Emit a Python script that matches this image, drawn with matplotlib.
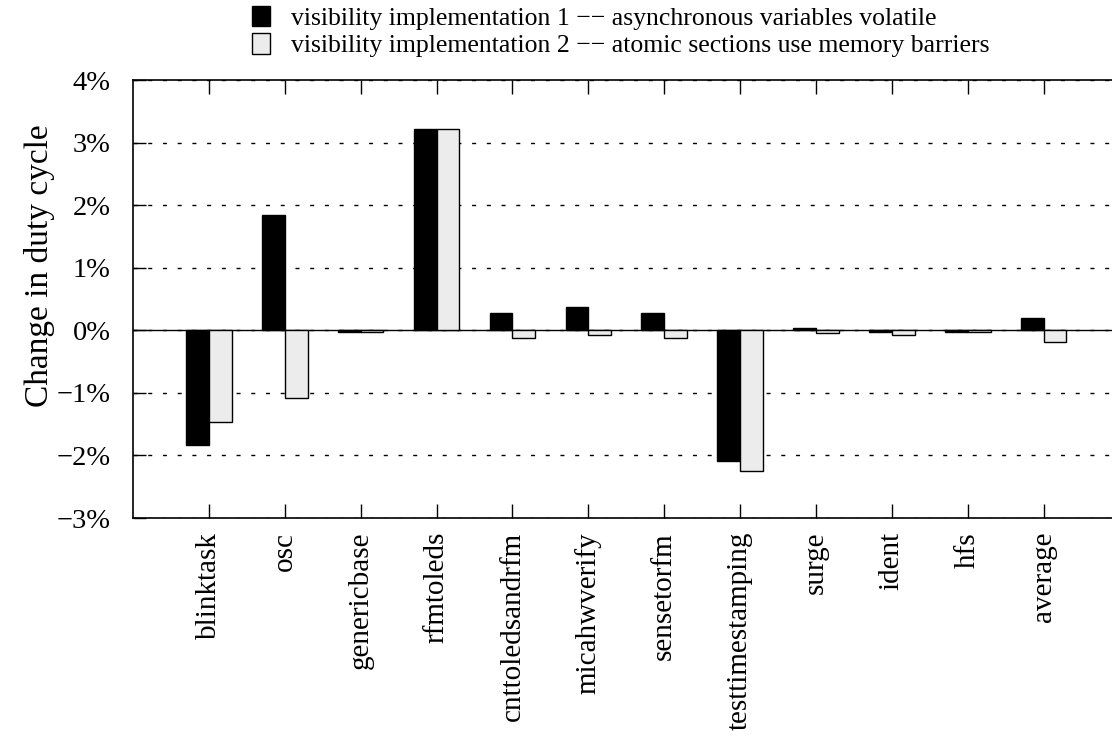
import numpy as np
import matplotlib
matplotlib.use('Agg')
import matplotlib.pyplot as plt
from matplotlib.patches import Patch

plt.rcParams['font.family'] = ['Liberation Serif', 'DejaVu Serif']

# data (percent change in duty cycle)
benchmarks = ['blinktask', 'osc', 'genericbase', 'rfmtoleds', 'cnttoledsandrfm',
              'micahwverify', 'sensetorfm', 'testtimestamping', 'surge', 'ident',
              'hfs', 'average']
impl1 = [-1.83, 1.85, -0.02, 3.22, 0.28, 0.38, 0.27, -2.09, 0.03, -0.025, -0.03, 0.19]
impl2 = [-1.46, -1.08, -0.03, 3.22, -0.12, -0.075, -0.12, -2.25, -0.04, -0.08, -0.03, -0.19]
yticks = [-3, -2, -1, 0, 1, 2, 3, 4]
label1 = 'visibility implementation 1 \u2212\u2212 asynchronous variables volatile'
label2 = 'visibility implementation 2 \u2212\u2212 atomic sections use memory barriers'

fig = plt.figure(figsize=(11.12, 7.36), dpi=100)
ax = fig.add_axes([133 / 1112, 1 - 518 / 736, 1 - 133 / 1112, (518 - 80) / 736])

x = np.arange(len(benchmarks))
w = 0.3
ax.bar(x, impl1, width=-w, align='edge', color='black', edgecolor='black', linewidth=1, zorder=3)
ax.bar(x, impl2, width=w, align='edge', color='#ececec', edgecolor='black', linewidth=1, zorder=3)

ax.axhline(0, color='black', linewidth=1, zorder=2)
for t in yticks:
    ax.axhline(t, color='black', linewidth=1, linestyle=(0, (2.9, 7.7)), zorder=1)

ax.set_xlim(-1, 11.9)
ax.set_ylim(-3, 4)
ax.set_yticks(yticks)
ax.set_yticklabels(['\u2212%d%%' % -t if t < 0 else '%d%%' % t for t in yticks])
ax.set_xticks(x)
ax.set_xticklabels(benchmarks, rotation=90, va='top', ha='center')

ax.tick_params(axis='y', direction='in', length=9.5, width=1, labelsize=20.5, pad=16,
               left=True, right=False)
ax.tick_params(axis='x', direction='in', length=10, width=1, labelsize=21, pad=10,
               top=True, bottom=True)
ax.spines['right'].set_visible(False)
for s in ['left', 'top', 'bottom']:
    ax.spines[s].set_linewidth(1.2)

fig.text(40 / 1112, 1 - 266 / 736, 'Change in duty cycle', rotation=90,
         ha='center', va='center', fontsize=24)

handles = [Patch(facecolor='black', edgecolor='black', label=label1),
           Patch(facecolor='#ececec', edgecolor='black', label=label2)]
fig.legend(handles=handles, loc='upper left', bbox_to_anchor=(242 / 1112, 1.006),
           frameon=False, fontsize=18.5, handlelength=0.7, handleheight=0.85,
           handletextpad=0.8, labelspacing=0.12, borderaxespad=0.0)

fig.savefig('out.png', dpi=100)
